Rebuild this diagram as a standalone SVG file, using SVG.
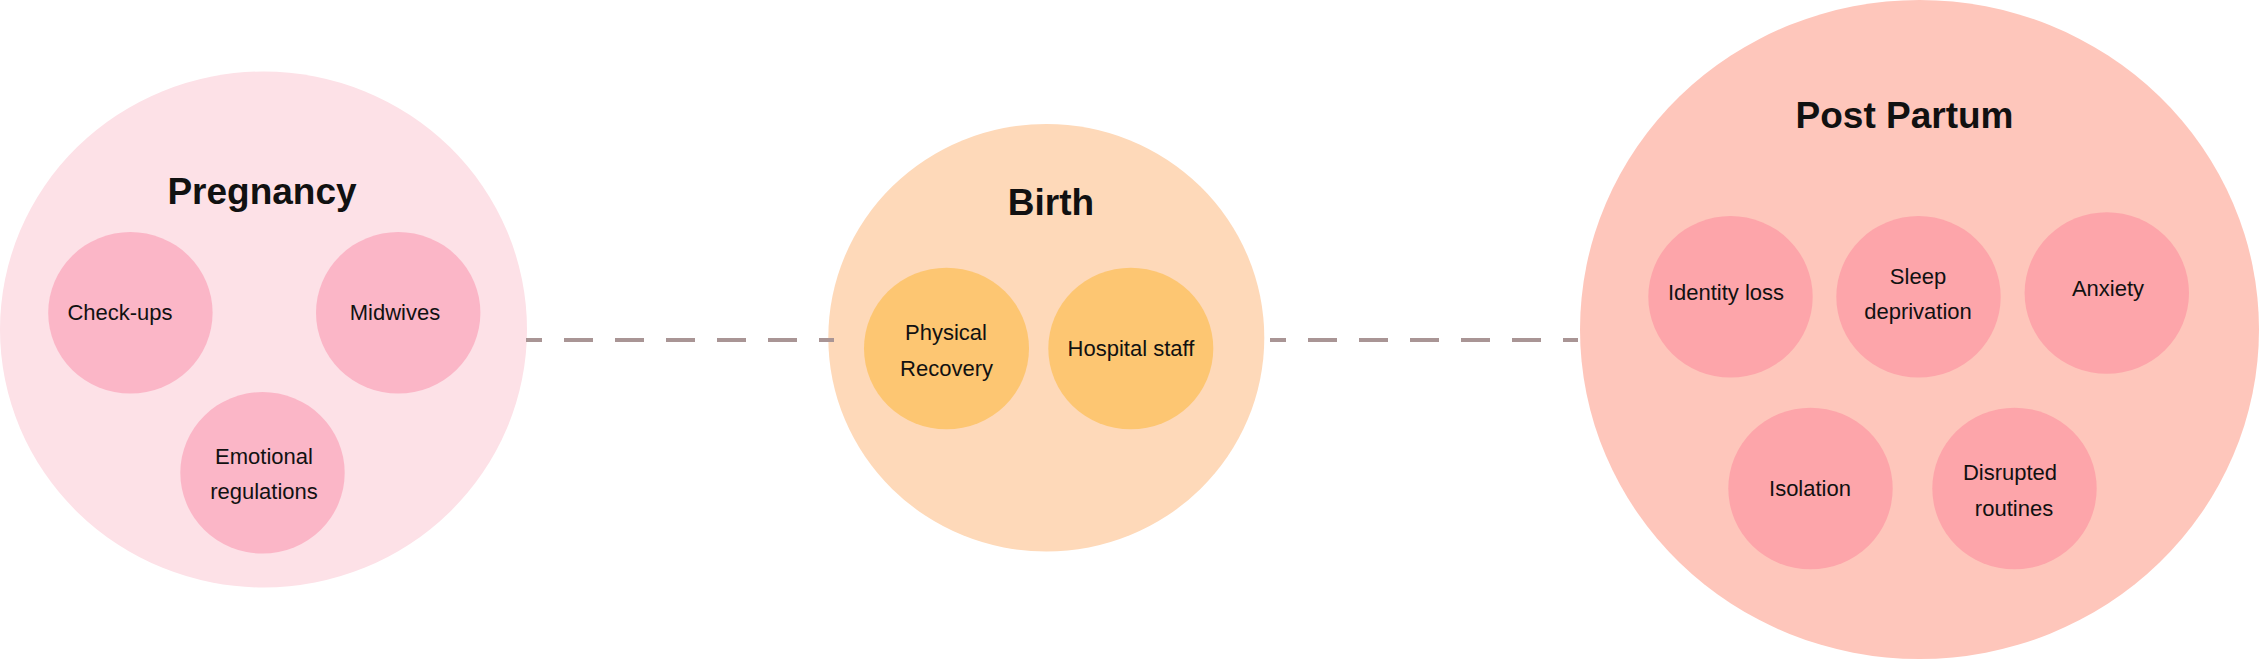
<svg xmlns="http://www.w3.org/2000/svg" width="2260" height="660" viewBox="0 0 2260 660">
<style>
.title{font-family:"Liberation Sans",Arial,sans-serif;font-weight:bold;font-size:37px;fill:#111;text-anchor:middle}
.lbl{font-family:"Liberation Sans",Arial,sans-serif;font-size:22px;fill:#111;text-anchor:middle}
.pg{fill:#FDE1E7}.pgs{fill:#FBB6C7}
.bi{fill:#FED9B9}.bis{fill:#FDC672}
.pp{fill:#FEC6BB}.pps{fill:#FDA5AA}
.conn{stroke:#A99595;stroke-width:4;fill:none;stroke-dasharray:29 22;stroke-dashoffset:13}
</style>
<rect width="2260" height="660" fill="#fff"/>
<g id="pregnancy">
<ellipse class="pg" cx="263.5" cy="329.5" rx="263.5" ry="258"/>
<text class="title" x="262" y="204">Pregnancy</text>
</g>
<g id="checkups">
<ellipse class="pgs" cx="130.4" cy="312.8" rx="82.2" ry="80.8"/>
<text class="lbl" x="120" y="320">Check-ups</text>
</g>
<g id="midwives">
<ellipse class="pgs" cx="398.2" cy="312.8" rx="82.2" ry="80.8"/>
<text class="lbl" x="395" y="320">Midwives</text>
</g>
<g id="emotional">
<ellipse class="pgs" cx="262.5" cy="472.8" rx="82.2" ry="80.8"/>
<text class="lbl" x="264" y="464">Emotional</text>
<text class="lbl" x="264" y="499">regulations</text>
</g>
<g id="birth">
<ellipse class="bi" cx="1046.3" cy="337.8" rx="218" ry="213.8"/>
<text class="title" x="1051" y="215">Birth</text>
</g>
<g id="physical">
<ellipse class="bis" cx="946.5" cy="348.5" rx="82.5" ry="80.8"/>
<text class="lbl" x="946" y="340">Physical</text>
<text class="lbl" x="946.5" y="376">Recovery</text>
</g>
<g id="hospital">
<ellipse class="bis" cx="1130.8" cy="348.5" rx="82.5" ry="80.8"/>
<text class="lbl" x="1131" y="356">Hospital staff</text>
</g>
<g id="postpartum">
<ellipse class="pp" cx="1919.5" cy="329.5" rx="339.5" ry="329.5"/>
<text class="title" x="1904.5" y="128">Post Partum</text>
</g>
<g id="identity">
<ellipse class="pps" cx="1730.5" cy="296.8" rx="82.2" ry="80.8"/>
<text class="lbl" x="1726" y="300">Identity loss</text>
</g>
<g id="sleep">
<ellipse class="pps" cx="1918.5" cy="296.8" rx="82.2" ry="80.8"/>
<text class="lbl" x="1918" y="284">Sleep</text>
<text class="lbl" x="1918" y="319">deprivation</text>
</g>
<g id="anxiety">
<ellipse class="pps" cx="2106.8" cy="293" rx="82.2" ry="80.8"/>
<text class="lbl" x="2108" y="296">Anxiety</text>
</g>
<g id="isolation">
<ellipse class="pps" cx="1810.5" cy="488.5" rx="82.2" ry="80.8"/>
<text class="lbl" x="1810" y="496">Isolation</text>
</g>
<g id="disrupted">
<ellipse class="pps" cx="2014.5" cy="488.5" rx="82.2" ry="80.8"/>
<text class="lbl" x="2010" y="480">Disrupted</text>
<text class="lbl" x="2014" y="516">routines</text>
</g>
<g id="connectors">
<line class="conn" x1="526" y1="340" x2="834" y2="340"/>
<line class="conn" x1="1270" y1="340" x2="1578" y2="340"/>
</g>
</svg>
